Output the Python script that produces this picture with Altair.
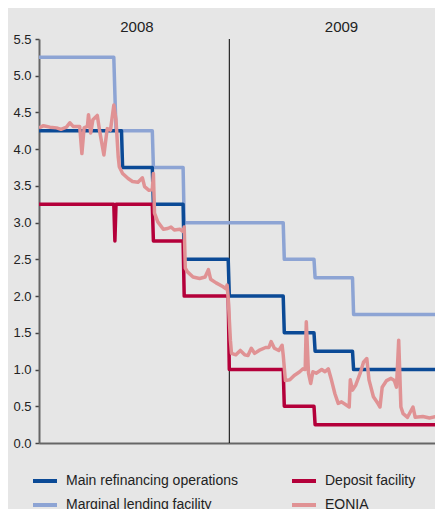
import altair as alt
import pandas as pd

FONT = "Liberation Sans"

# Main refinancing operations (step breakpoints)
mro_dates = ["2008-07-31", "2008-10-14", "2008-10-15", "2008-11-11", "2008-11-12",
             "2008-12-09", "2008-12-10", "2009-01-19", "2009-01-20", "2009-03-10",
             "2009-03-11", "2009-04-07", "2009-04-08", "2009-05-12", "2009-05-13",
             "2009-08-02"]
mro_values = [4.25, 4.25, 3.75, 3.75, 3.25, 3.25, 2.50, 2.50, 2.00, 2.00,
              1.50, 1.50, 1.25, 1.25, 1.00, 1.00]

# Marginal lending facility
mlf_dates = ["2008-07-31", "2008-10-07", "2008-10-08", "2008-10-09", "2008-11-11",
             "2008-11-12", "2008-12-09", "2008-12-10", "2009-03-10", "2009-03-11",
             "2009-04-07", "2009-04-08", "2009-05-12", "2009-05-13", "2009-08-02"]
mlf_values = [5.25, 5.25, 4.75, 4.25, 4.25, 3.75, 3.75, 3.00, 3.00, 2.50,
              2.50, 2.25, 2.25, 1.75, 1.75]

# Deposit facility
df_dates = ["2008-07-31", "2008-10-07", "2008-10-08", "2008-10-09", "2008-11-11",
            "2008-11-12", "2008-12-09", "2008-12-10", "2009-01-19", "2009-01-20",
            "2009-03-10", "2009-03-11", "2009-04-07", "2009-04-08", "2009-08-02"]
df_values = [3.25, 3.25, 2.75, 3.25, 3.25, 2.75, 2.75, 2.00, 2.00, 1.00,
             1.00, 0.50, 0.50, 0.25, 0.25]

# EONIA
eonia_dates = ["2008-07-31", "2008-08-04", "2008-08-10", "2008-08-16", "2008-08-20",
               "2008-08-25", "2008-08-28", "2008-08-31", "2008-09-06", "2008-09-08",
               "2008-09-10", "2008-09-13", "2008-09-14", "2008-09-16", "2008-09-18",
               "2008-09-22", "2008-09-24", "2008-09-28", "2008-10-01", "2008-10-04",
               "2008-10-07", "2008-10-09", "2008-10-11", "2008-10-12", "2008-10-15",
               "2008-10-20", "2008-10-24", "2008-10-29", "2008-11-02", "2008-11-04",
               "2008-11-08", "2008-11-11", "2008-11-12", "2008-11-13", "2008-11-16",
               "2008-11-21", "2008-11-25", "2008-11-28", "2008-12-01", "2008-12-06",
               "2008-12-09", "2008-12-10", "2008-12-11", "2008-12-13", "2008-12-18",
               "2008-12-24", "2008-12-29", "2009-01-01", "2009-01-03", "2009-01-08",
               "2009-01-14", "2009-01-17", "2009-01-18", "2009-01-19", "2009-01-21",
               "2009-01-22", "2009-01-26", "2009-01-30", "2009-02-03", "2009-02-06",
               "2009-02-09", "2009-02-12", "2009-02-16", "2009-02-22", "2009-02-25",
               "2009-02-27", "2009-03-02", "2009-03-06", "2009-03-09", "2009-03-10",
               "2009-03-12", "2009-03-16", "2009-03-20", "2009-03-25", "2009-03-28",
               "2009-03-30", "2009-03-31", "2009-04-02", "2009-04-04", "2009-04-06",
               "2009-04-09", "2009-04-14", "2009-04-17", "2009-04-20", "2009-04-23",
               "2009-04-26", "2009-04-29", "2009-05-02", "2009-05-07", "2009-05-09",
               "2009-05-10", "2009-05-12", "2009-05-15", "2009-05-19", "2009-05-22",
               "2009-05-25", "2009-05-27", "2009-05-31", "2009-06-04", "2009-06-06",
               "2009-06-08", "2009-06-12", "2009-06-16", "2009-06-19", "2009-06-21",
               "2009-06-23", "2009-06-25", "2009-06-27", "2009-07-01", "2009-07-06",
               "2009-07-08", "2009-07-15", "2009-07-21", "2009-07-27", "2009-08-02"]
eonia_values = [4.29, 4.32, 4.30, 4.29, 4.27,
                4.30, 4.36, 4.31, 4.31, 3.94,
                4.29, 4.31, 4.47, 4.22, 4.40,
                4.46, 4.26, 3.92, 4.28, 4.26,
                4.60, 4.40, 3.90, 3.76, 3.67,
                3.60, 3.56, 3.55, 3.61, 3.49,
                3.44, 3.45, 3.67, 3.13, 3.01,
                2.91, 2.92, 2.94, 2.90, 2.91,
                2.88, 2.94, 2.38, 2.33, 2.26,
                2.24, 2.26, 2.36, 2.23, 2.18,
                2.13, 2.10, 2.15, 1.97, 1.40,
                1.22, 1.20, 1.26, 1.20, 1.19,
                1.29, 1.22, 1.26, 1.30, 1.30,
                1.38, 1.29, 1.26, 1.33, 1.20,
                0.85, 0.86, 0.92, 0.97, 1.01,
                1.00, 1.65, 0.95, 0.81, 0.97,
                0.95, 1.00, 0.97, 1.01, 0.85,
                0.67, 0.54, 0.56, 0.51, 0.49,
                0.86, 0.72, 0.79, 0.95, 1.10,
                1.15, 0.86, 0.63, 0.54, 0.49,
                0.76, 0.85, 0.88, 0.85, 0.76,
                1.40, 0.49, 0.40, 0.35, 0.49,
                0.35, 0.36, 0.34, 0.36, 0.37]

series_names = ["Main refinancing operations", "Deposit facility",
                "Marginal lending facility", "EONIA"]
series_colors = ["#0b4a96", "#b4003a", "#8da4d4", "#e09294"]

year_labels = ["2008", "2009"]
year_label_dates = ["2008-10-28", "2009-05-02"]
year_divider = ["2009-01-20"]

y_ticks = [0.0, 0.5, 1.0, 1.5, 2.0, 2.5, 3.0, 3.5, 4.0, 4.5, 5.0, 5.5]

frames = []
for name, dates, vals in [
    ("Marginal lending facility", mlf_dates, mlf_values),
    ("Main refinancing operations", mro_dates, mro_values),
    ("Deposit facility", df_dates, df_values),
    ("EONIA", eonia_dates, eonia_values),
]:
    frames.append(pd.DataFrame({"series": name, "date": dates, "value": vals}))
data = pd.concat(frames, ignore_index=True)
data["order"] = data["series"].map({"Marginal lending facility": 0,
                                    "Main refinancing operations": 1,
                                    "Deposit facility": 2, "EONIA": 3})

x_scale = alt.Scale(domain=[alt.DateTime(year=2008, month=7, date=31, utc=True),
                            alt.DateTime(year=2009, month=7, date=26, utc=True)])
y_scale = alt.Scale(domain=[0, 5.5], nice=False, zero=True)

lines = alt.Chart(data).mark_line(strokeWidth=3.5, clip=True, strokeJoin="round").encode(
    x=alt.X("date:T", scale=x_scale,
            axis=alt.Axis(title=None, labels=False, ticks=False, grid=False,
                          domainColor="#666666", domainWidth=2)),
    y=alt.Y("value:Q", scale=y_scale,
            axis=alt.Axis(title=None, values=y_ticks, format=".1f", grid=False,
                          tickSize=4, tickColor="#444444", tickWidth=1.5,
                          domainColor="#666666", domainWidth=2,
                          labelFont=FONT, labelFontSize=13, labelColor="#222222",
                          labelPadding=4)),
    color=alt.Color("series:N",
                    scale=alt.Scale(domain=series_names, range=series_colors),
                    legend=alt.Legend(title=None, orient="none", legendX=-8, legendY=428,
                                      columns=2, direction="horizontal",
                                      symbolType="stroke", symbolSize=576,
                                      symbolStrokeWidth=4, labelFont=FONT,
                                      labelFontSize=14, labelColor="#222222",
                                      labelLimit=400,
                                      labelOffset=7, columnPadding=46, rowPadding=2)),
    detail="series:N",
    order=alt.Order("order:Q"),
)

divider = alt.Chart(pd.DataFrame({"date": year_divider})).mark_rule(
    color="#000000", strokeWidth=1).encode(
    x=alt.X("date:T", scale=x_scale),
)

years = alt.Chart(pd.DataFrame({"date": year_label_dates, "label": year_labels})).mark_text(
    font=FONT, fontSize=15, color="#222222", baseline="middle", align="center").encode(
    x=alt.X("date:T", scale=x_scale),
    y=alt.value(-12),
    text="label:N",
)

chart = alt.layer(divider, lines, years).properties(
    width=396, height=404,
    autosize=alt.AutoSizeParams(type="none"),
    padding={"left": 31, "top": 31, "right": 0, "bottom": 66},
    background="#e6e6e6",
).configure_view(stroke=None)

chart.save("out.html", embed_options={"renderer": "svg", "actions": False})
